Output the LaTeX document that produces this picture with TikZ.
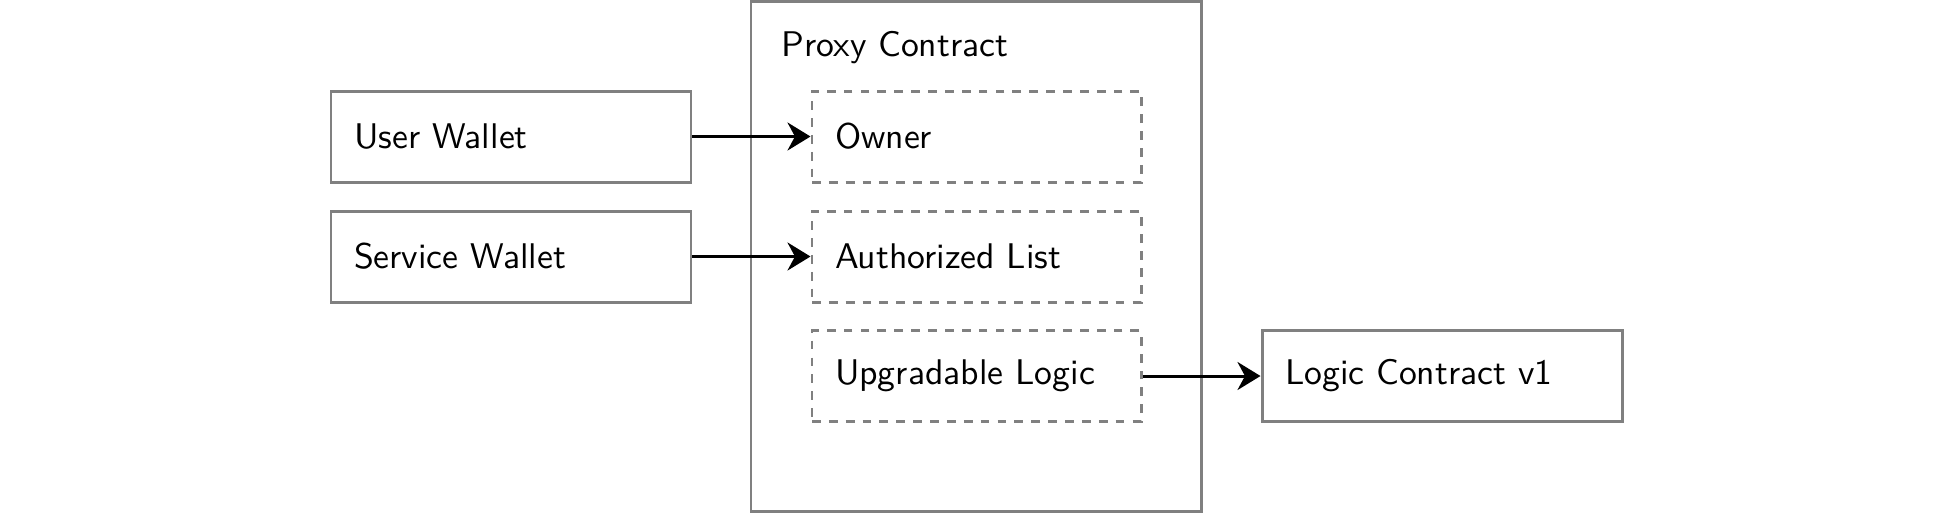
\documentclass[tikz,border=0pt]{standalone}
\usetikzlibrary{arrows.meta,positioning}
\colorlet{box edge}{black!50}
\tikzset{box/.style={draw=box edge, line width=0.85pt, minimum height=9.1mm, inner xsep=2.3mm, align=left},
    wallet/.style={box, text width=31.4mm},
    slot/.style={box, dash pattern=on 2.5pt off 2.3pt, text width=28.3mm},
    link/.style={-{Stealth[length=2.3mm,width=2.8mm]}, line width=0.85pt}}

\begin{document}
\begin{tikzpicture}[font=\sffamily\fontsize{10.15}{12}\selectfont]
    \useasboundingbox (0,0) rectangle (19.53,-5.13);
    \node[draw=box edge, line width=0.85pt, minimum width=45mm, minimum height=51mm] (proxy) at (9.76,-2.56) {};
    \node[anchor=base west, inner sep=0pt] (plabel) at (7.81,-0.56) {Proxy Contract};
    \node[slot] (owner) at (9.765,-1.365) {Owner};
    \node[slot] (auth) at (9.765,-2.565) {Authorized List};
    \node[slot] (upgr) at (9.765,-3.76) {Upgradable Logic};
    \node[wallet] (user) at (5.11,-1.365) {User Wallet};
    \node[wallet] (service) at (5.11,-2.565) {Service Wallet};
    \node[wallet] (logic) at (14.42,-3.76) {Logic Contract v1};
    \draw[link] (user) -- (owner);
    \draw[link] (service) -- (auth);
    \draw[link] (upgr) -- (logic);
  \end{tikzpicture}
\end{document}
